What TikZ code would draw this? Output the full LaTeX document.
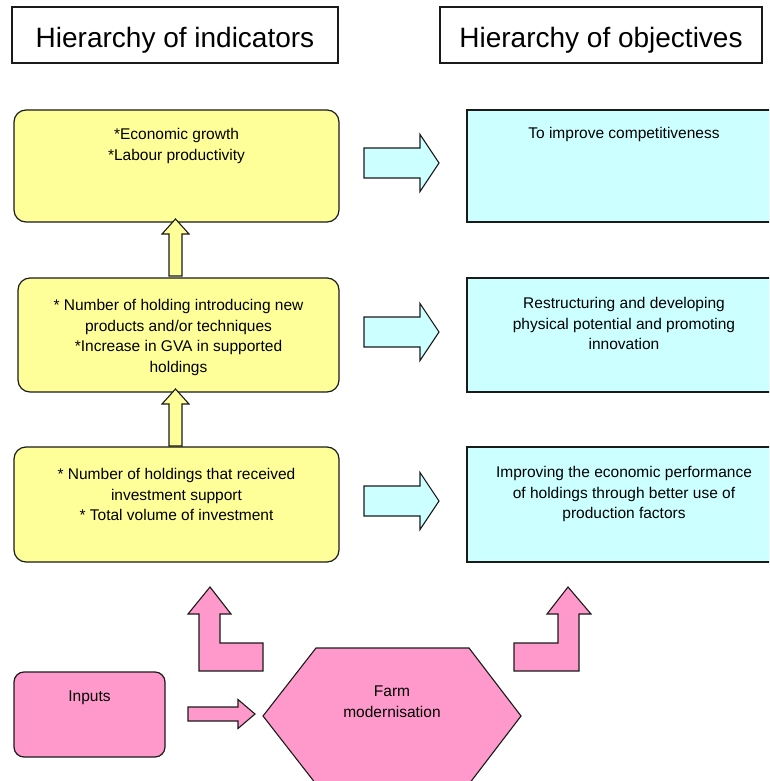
\documentclass[tikz,border=0pt]{standalone}
\usepackage{fontspec}
\setmainfont{Liberation Sans}
\begin{document}
\definecolor{indfill}{HTML}{FFFF99}
\definecolor{objfill}{HTML}{CCFFFF}
\definecolor{inpfill}{HTML}{FF99CC}
\definecolor{edge}{HTML}{1A1A1A}
\begin{tikzpicture}[x=1pt,y=-1pt,
  titlebox/.style={draw=edge, line width=1.1pt, fill=white, inner sep=0pt},
  titletext/.style={font=\fontsize{28}{34}\selectfont, inner sep=0pt, anchor=base},
  indbox/.style={draw=edge, fill=indfill, rounded corners=12pt, line width=1.2pt, inner sep=0pt},
  objbox/.style={draw=edge, fill=objfill, line width=1.2pt, inner sep=0pt},
  inpbox/.style={draw=edge, fill=inpfill, rounded corners=10pt, line width=1.2pt, inner sep=0pt},
  txt/.style={font=\fontsize{15.5}{20.5}\selectfont, align=center, inner sep=0pt, anchor=north},
  blockarrow/.style={draw=edge, line width=1.1pt, line join=miter},
  rarrow/.pic={\draw[blockarrow, fill=objfill] (0,-15) -- (56,-15) -- (56,-28.5) -- (75,0) -- (56,28.5) -- (56,15) -- (0,15) -- cycle;},
  uarrow/.pic={\draw[blockarrow, fill=indfill] (-6.5,0) -- (-6.5,-42) -- (-13.5,-42) -- (0,-57) -- (13.5,-42) -- (6.5,-42) -- (6.5,0) -- cycle;},
  parrow/.pic={\draw[blockarrow, fill=inpfill] (0,-7) -- (50,-7) -- (50,-14.5) -- (67,0) -- (50,14.5) -- (50,7) -- (0,7) -- cycle;}
]
\path[use as bounding box] (0,0) rectangle (769,781);
\clip (0,0) rectangle (769,781);

% column headings
\node[titlebox, minimum width=326pt, minimum height=56pt] (hl) at (175,35) {};
\node[titletext] (hlt) at (175,48) {Hierarchy of indicators};
\node[titlebox, minimum width=322pt, minimum height=56pt] (hr) at (601,35) {};
\node[titletext] (hrt) at (601,48) {Hierarchy of objectives};

% indicators
\node[indbox, minimum width=325pt, minimum height=112pt] (i1) at (176.5,166) {};
\node[indbox, minimum width=321pt, minimum height=114pt] (i2) at (178.5,335) {};
\node[indbox, minimum width=325pt, minimum height=115pt] (i3) at (176.5,504.5) {};
\node[txt] (t1) at ([yshift=-18.7pt]i1.north) {*Economic growth\\*Labour productivity};
\node[txt] (t2) at ([yshift=-21.7pt]i2.north) {* Number of holding introducing new\\products and/or techniques\\*Increase in GVA in supported\\holdings};
\node[txt] (t3) at ([yshift=-21.7pt]i3.north) {* Number of holdings that received\\investment support\\* Total volume of investment};

% objectives
\node[objbox, minimum width=314pt, minimum height=112pt] (o1) at (624,166) {};
\node[objbox, minimum width=314pt, minimum height=114pt] (o2) at (624,335) {};
\node[objbox, minimum width=314pt, minimum height=115pt] (o3) at (624,504.5) {};
\node[txt] (u1) at ([yshift=-17.7pt]o1.north) {To improve competitiveness};
\node[txt] (u2) at ([yshift=-19.7pt]o2.north) {Restructuring and developing\\physical potential and promoting\\innovation};
\node[txt] (u3) at ([yshift=-19.7pt]o3.north) {Improving the economic performance\\of holdings through better use of\\production factors};

% links between the two hierarchies
\pic at (364,163) {rarrow};
\pic at (364,332) {rarrow};
\pic at (364,501) {rarrow};
\pic at (175.5,276) {uarrow};
\pic at (175.5,446) {uarrow};

% inputs and the measure
\node[inpbox, minimum width=151pt, minimum height=85pt] (inp) at (89.5,714.5) {};
\node[txt] (inpt) at ([yshift=-19.7pt]inp.north) {Inputs};
\pic at (188,714) {parrow};
\draw[blockarrow, fill=inpfill] (316,648) -- (469,648) -- (521,716) -- (469,784) -- (316,784) -- (263,716) -- cycle;
\node[txt] (fm) at (392,685.7) {Farm\\modernisation};

% bent arrows leading up to both hierarchies
\draw[blockarrow, fill=inpfill] (199,671) -- (263,671) -- (263,643) -- (220,643) -- (220,614) -- (231,614) -- (210,587) -- (188,614) -- (199,614) -- cycle;
\draw[blockarrow, fill=inpfill] (514,671) -- (579,671) -- (579,614) -- (591,614) -- (568,587) -- (547,614) -- (558,614) -- (558,643) -- (514,643) -- cycle;
\end{tikzpicture}
\end{document}
